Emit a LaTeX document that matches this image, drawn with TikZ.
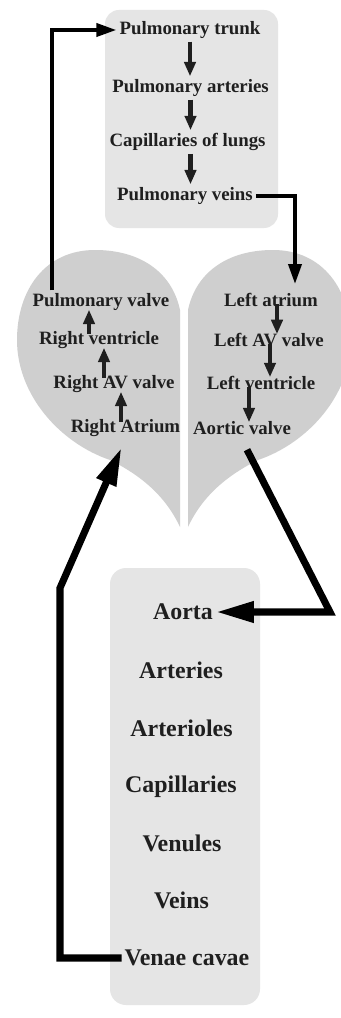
\documentclass[tikz,border=0pt]{standalone}
\usepackage{fontspec}
\setmainfont{Liberation Serif}
\usetikzlibrary{calc}
\usetikzlibrary{arrows.meta}

\definecolor{boxgray}{gray}{0.9}
\definecolor{heartgray}{gray}{0.81}
\definecolor{inkgray}{gray}{0.12}

\begin{document}
\begin{tikzpicture}[x=0.025cm, y=-0.025cm,
  part/.style={font=\bfseries\fontsize{13.4}{15}\selectfont, text=inkgray, inner sep=2pt},
  vessel/.style={font=\bfseries\fontsize{17}{20}\selectfont, text=inkgray, inner sep=2pt},
  tick/.style={line width=2.85pt, draw=inkgray, -{Triangle[length=0.36cm,width=0.28cm]}},
  longtick/.style={tick, shorten <=-0.14cm, shorten >=-0.1cm},
  link/.style={line width=2.85pt, draw=black, -{Triangle[length=0.5cm,width=0.32cm]}},
  bigflow/.style={line width=5pt, draw=black, -{Triangle[length=0.95cm,width=0.5cm]}}]

\clip (0,0) rectangle (341,1018);
\fill[white] (0,0) rectangle (341,1018);

% lungs and body panels
\fill[boxgray, rounded corners=0.35cm] (105,10) rectangle (278,228);
\fill[boxgray, rounded corners=0.4cm] (110,568) rectangle (260,1005);

% the two halves of the heart
\fill[heartgray] (180,527) -- (180,310) .. controls (172,272) and (140,250) .. (95,250)
  .. controls (45,250) and (17,290) .. (17,340) .. controls (17,395) and (60,443) .. (110,460)
  .. controls (140,475) and (165,495) .. (180,527) -- cycle;
\fill[heartgray] (188,527) -- (188,310) .. controls (196,272) and (228,250) .. (273,250)
  .. controls (323,250) and (351,290) .. (351,340) .. controls (351,395) and (308,443) .. (258,460)
  .. controls (228,475) and (203,495) .. (188,527) -- cycle;

% lungs
\node[part] (trunk) at (190,30) {Pulmonary trunk};
\node[part] (parteries) at (190.5,88) {Pulmonary arteries};
\node[part] (lcapill) at (187.5,142) {Capillaries of lungs};
\node[part] (pveins) at (185,196) {Pulmonary veins};

% right heart
\node[part] (pvalve) at (101,302) {Pulmonary valve};
\node[part] (rventricle) at (99,340) {Right ventricle};
\node[part] (ravalve) at (114,384) {Right AV valve};
\node[part] (ratrium) at (125.5,428) {Right Atrium};

% left heart
\node[part] (latrium) at (271,300) {Left atrium};
\node[part] (lavalve) at (269,340) {Left AV valve};
\node[part] (lventricle) at (261,383) {Left ventricle};
\node[part] (aortic) at (242,428) {Aortic valve};

% body
\node[vessel] (aorta) at (183,612) {Aorta};
\node[vessel] (arteries) at (181,670) {Arteries};
\node[vessel] (arterioles) at (181.5,728) {Arterioles};
\node[vessel] (bcapill) at (181,787) {Capillaries};
\node[vessel] (venules) at (182,843) {Venules};
\node[vessel] (veins) at (181.5,900) {Veins};
\node[vessel] (vcavae) at (187,958) {Venae cavae};

% steps inside the panels
\draw[tick] (trunk.south) -- (trunk.south |- parteries.north);
\draw[tick] (parteries.south) -- (parteries.south |- lcapill.north);
\draw[tick] (parteries.south |- lcapill.south) -- (parteries.south |- pveins.north);

\draw[longtick] (89,0 |- rventricle.north) -- (89,0 |- pvalve.south);
\draw[longtick] (104,0 |- ravalve.north) -- (104,0 |- rventricle.south);
\draw[longtick] (121,0 |- ratrium.north) -- (121,0 |- ravalve.south);

\draw[longtick] (277,0 |- latrium.south) -- (277,0 |- lavalve.north);
\draw[longtick] (270,0 |- lavalve.south) -- (270,0 |- lventricle.north);
\draw[longtick] (249,0 |- lventricle.south) -- (249,0 |- aortic.north);

% circulation
\coordinate (toplung) at (52,32);
\coordinate (vturn) at (295,198);
\coordinate (bodyturn) at (60,958);
\coordinate (bodyup) at (60,588);
\coordinate (aoturn) at (330,612);

\draw[link] (toplung |- pvalve.north) -- (toplung |- trunk.west) -- (trunk.west);
\draw[link] (pveins.east) -- (vturn |- pveins.east) -- ($(vturn |- latrium.north)+(0,-6)$);
\draw[bigflow] (vcavae.west) -- (bodyturn |- vcavae.west) -- (bodyup) -- ($(ratrium.south)+(-4,8)$);
\draw[bigflow] ($(aortic.south)+(5,12)$) -- (aoturn |- aorta.east) -- (aorta.east);

\end{tikzpicture}
\end{document}
